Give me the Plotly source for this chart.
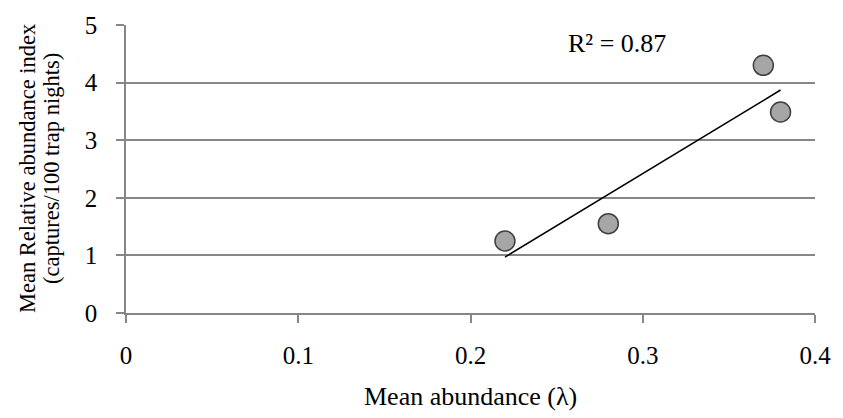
import numpy as np
import plotly.graph_objects as go

# Mean abundance (lambda) vs. mean relative abundance index
mean_abundance = [0.22, 0.28, 0.37, 0.38]
relative_index = [1.25, 1.55, 4.30, 3.49]

x_ticks = [0, 0.1, 0.2, 0.3, 0.4]
y_ticks = [0, 1, 2, 3, 4, 5]

x_title = "Mean abundance (λ)"
y_title_lines = ["Mean Relative abundance index", "(captures/100 trap nights)"]

# Least-squares linear trend and its R²
slope, intercept = np.polyfit(mean_abundance, relative_index, 1)
x_fit = np.array([min(mean_abundance), max(mean_abundance)])
y_fit = slope * x_fit + intercept
pred = slope * np.array(mean_abundance) + intercept
ss_res = np.sum((np.array(relative_index) - pred) ** 2)
ss_tot = np.sum((np.array(relative_index) - np.mean(relative_index)) ** 2)
r2 = 1 - ss_res / ss_tot

FONT = "Liberation Serif, Times New Roman, serif"
GRID = "#878787"

fig = go.Figure()
fig.add_trace(go.Scatter(
    x=x_fit, y=y_fit, mode="lines",
    line=dict(color="black", width=1.5),
    hoverinfo="skip", showlegend=False,
))
fig.add_trace(go.Scatter(
    x=mean_abundance, y=relative_index, mode="markers",
    marker=dict(size=20, color="#a6a6a6", line=dict(color="#404040", width=1.5)),
    showlegend=False,
))

fig.add_annotation(
    x=0.2848, y=4.68, xref="x", yref="y",
    text=f"R² = {r2:.2f}", showarrow=False,
    font=dict(family=FONT, size=26, color="black"),
)

# Axis titles
fig.add_annotation(
    x=0.5, y=-0.29, xref="paper", yref="paper",
    text=x_title, showarrow=False, xanchor="center", yanchor="middle",
    font=dict(family=FONT, size=26, color="black"),
)
for i, line in enumerate(y_title_lines):
    fig.add_annotation(
        x=0, y=0.5, xref="paper", yref="paper",
        xshift=-99 + 24 * i, text=line, showarrow=False, textangle=-90,
        xanchor="center", yanchor="middle",
        font=dict(family=FONT, size=22.5, color="black"),
    )

fig.update_xaxes(
    range=[0, 0.4], tickvals=x_ticks, ticktext=[f"{v:g}" for v in x_ticks],
    showgrid=False, zeroline=False,
    showline=True, linecolor=GRID, linewidth=1.5,
    ticks="outside", ticklen=8, tickcolor=GRID, tickwidth=1.5,
    ticklabelstandoff=11,
    tickfont=dict(family=FONT, size=25, color="black"),
)
fig.update_yaxes(
    range=[0, 5], tickvals=y_ticks,
    showgrid=True, gridcolor=GRID, gridwidth=1.5, zeroline=False,
    showline=True, linecolor=GRID, linewidth=1.5,
    ticks="outside", ticklen=8, tickcolor=GRID, tickwidth=1.5,
    ticklabelstandoff=14,
    tickfont=dict(family=FONT, size=25, color="black"),
)

fig.update_layout(
    width=843, height=418,
    margin=dict(l=126, r=19, t=21, b=105),
    plot_bgcolor="white", paper_bgcolor="white",
)

fig.write_html("out.html")
